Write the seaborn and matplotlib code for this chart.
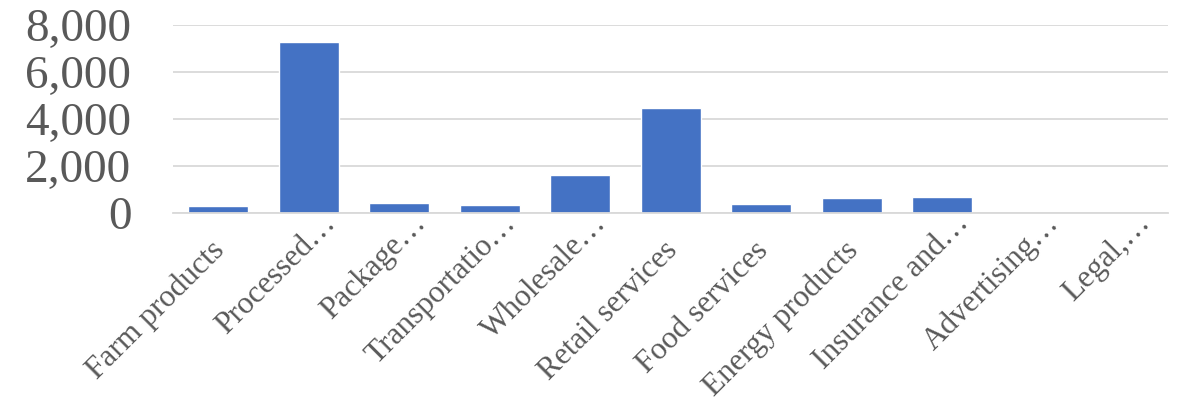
import matplotlib
matplotlib.use("Agg")
import matplotlib.pyplot as plt
import matplotlib.transforms as mtransforms
import seaborn as sns
import pandas as pd
from matplotlib.ticker import FuncFormatter

categories = ["Farm products", "Processed…", "Package…", "Transportatio…",
              "Wholesale…", "Retail services", "Food services",
              "Energy products", "Insurance and…", "Advertising…", "Legal,…"]
values = [310, 7260, 425, 355, 1630, 4460, 395, 650, 680, 0, 0]
yticks = [0, 2000, 4000, 6000, 8000]

sns.set_theme(style="white")
plt.rcParams['font.family'] = ['Liberation Serif', 'DejaVu Serif']

df = pd.DataFrame({"cat": categories, "val": values})

fig = plt.figure(figsize=(11.85, 4.05), dpi=100)
ax = fig.add_axes([0.146, 0.474, 0.986 - 0.146, 0.938 - 0.474])
sns.barplot(data=df, x="cat", y="val", color="#4472C4", saturation=1,
            width=0.66, ax=ax, errorbar=None)

ax.set_ylim(0, 8000)
ax.set_yticks(yticks)
ax.yaxis.set_major_formatter(FuncFormatter(lambda v, p: f"{int(v):,}"))
ax.grid(axis="y", color="#D9D9D9", linewidth=1.3)
ax.set_axisbelow(True)
for s in ["top", "right", "left"]:
    ax.spines[s].set_visible(False)
ax.spines["bottom"].set_color("#D9D9D9")
ax.spines["bottom"].set_linewidth(1.3)
ax.set_xlabel("")
ax.set_ylabel("")
ax.tick_params(axis="y", length=0, pad=30, labelsize=34, labelcolor="#595959")
ax.tick_params(axis="x", length=0, pad=0, labelsize=22.5, labelcolor="#595959")

fs = 22.5
for lab in ax.get_xticklabels():
    lab.set_rotation(45)
    lab.set_ha("right")
    lab.set_va("baseline")
    lab.set_rotation_mode("anchor")
    dx, dy = 5.5, -28.0
    if lab.get_text().endswith("…"):
        dx += fs * 0.707 - 1.5
        dy += fs * 0.707 + 4.0
    off = mtransforms.ScaledTranslation(dx / 72, dy / 72, fig.dpi_scale_trans)
    lab.set_transform(lab.get_transform() + off)

fig.savefig("out.png", dpi=100)
